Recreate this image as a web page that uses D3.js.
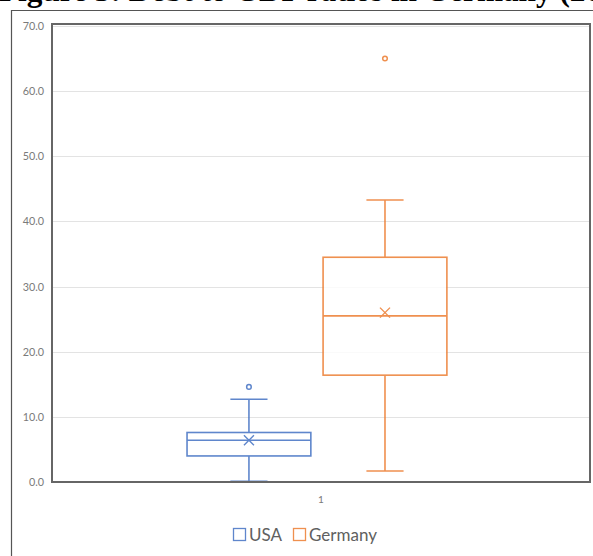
<!DOCTYPE html>
<html><head><meta charset="utf-8">
<script src="https://cdn.jsdelivr.net/npm/d3@7/dist/d3.min.js"></script>
<style>body{margin:0;background:#fff;overflow:hidden}svg{display:block}</style>
</head><body>
<svg id="c" width="593" height="556"></svg>
<script>
const series = ["USA", "Germany"];
const colors = ["#4472C4", "#ED7D31"];
const category = ["1"];
const whiskerLow = [0.1, 1.7];
const q1 = [4.0, 16.4];
const median = [6.4, 25.5];
const q3 = [7.6, 34.5];
const whiskerHigh = [12.7, 43.3];
const mean = [6.4, 26.0];
const outliers = [[14.6], [65.0]];
const yTicks = [0, 10, 20, 30, 40, 50, 60, 70];

const svg = d3.select("#c");
const W = 593, H = 556;
const m = {left: 52, right: 3, top: 24, bottom: 74};

// title (cut off at top of the picture)
const title = svg.append("text").attr("x", -1).attr("y", 1)
  .attr("font-family", "Liberation Serif").attr("font-weight", "bold").attr("font-size", 26).attr("fill", "#000");
title.append("tspan").text("Figure 3: Debt to GDP ratios in Germany ");
const w0 = title.node().getComputedTextLength();
const fs = 26 * 553 / w0;
title.attr("font-size", fs);
title.append("tspan").text("(2000-2019)");

// outer frame
svg.append("path").attr("d", `M11.5,${H}V10.5H${W}`).attr("fill", "none").attr("stroke", "#555").attr("stroke-width", 1.2);

const y = d3.scaleLinear().domain([0, 70]).range([H - m.bottom, m.top + 2]);
const x0 = d3.scaleBand().domain(category).range([m.left, W - m.right]);
const x1 = d3.scaleBand().domain(series)
  .range([x0("1") + x0.bandwidth() * 0.251, x0("1") + x0.bandwidth() * 0.734]).paddingInner(0.09);

// gridlines
svg.append("g").selectAll("line").data(yTicks.slice(1)).join("line")
  .attr("x1", m.left).attr("x2", W - m.right)
  .attr("y1", d => Math.round(y(d)) + 0.5).attr("y2", d => Math.round(y(d)) + 0.5)
  .attr("stroke", "#e3e3e3").attr("stroke-width", 1.2);

// y axis labels
const yAxis = d3.axisLeft(y).tickValues(yTicks).tickFormat(d3.format(".1f")).tickSize(0).tickPadding(8);
const ga = svg.append("g").attr("transform", `translate(${m.left},0)`).call(yAxis);
ga.select(".domain").remove();
ga.selectAll("text").attr("font-family", "Lato, 'Open Sans', sans-serif").attr("font-size", 10.8).attr("fill", "#7a7a7a");

// x axis label
const xAxis = d3.axisBottom(x0).tickSize(0).tickPadding(14);
const gx = svg.append("g").attr("transform", `translate(0,${y(0)})`).call(xAxis);
gx.select(".domain").remove();
gx.selectAll("text").attr("font-family", "Lato, sans-serif").attr("font-size", 10).attr("fill", "#7a7a7a");

// boxes
series.forEach((s, i) => {
  const g = svg.append("g").attr("stroke", colors[i]).attr("fill", "none").attr("stroke-width", 1.6).attr("opacity", 0.85);
  const bx = x1(s), bw = x1.bandwidth(), cx = bx + bw / 2, cap = bw * 0.3;
  g.append("line").attr("x1", cx).attr("x2", cx).attr("y1", y(whiskerHigh[i])).attr("y2", y(q3[i]));
  g.append("line").attr("x1", cx).attr("x2", cx).attr("y1", y(q1[i])).attr("y2", y(whiskerLow[i]));
  g.append("line").attr("x1", cx - cap/2).attr("x2", cx + cap/2).attr("y1", y(whiskerHigh[i])).attr("y2", y(whiskerHigh[i]));
  g.append("line").attr("x1", cx - cap/2).attr("x2", cx + cap/2).attr("y1", y(whiskerLow[i])).attr("y2", y(whiskerLow[i]));
  g.append("rect").attr("x", bx).attr("width", bw).attr("y", y(q3[i])).attr("height", y(q1[i]) - y(q3[i])).attr("fill", "#fff");
  g.append("line").attr("x1", bx).attr("x2", bx + bw).attr("y1", y(median[i])).attr("y2", y(median[i]));
  const my = y(mean[i]), k = 5;
  g.append("path").attr("d", `M${cx-k},${my-k}L${cx+k},${my+k}M${cx-k},${my+k}L${cx+k},${my-k}`).attr("stroke-width", 1.4);
  g.selectAll("circle").data(outliers[i]).join("circle").attr("cx", cx).attr("cy", d => y(d)).attr("r", 2.3).attr("stroke-width", 1.5);
});

// plot border
svg.append("rect").attr("x", m.left).attr("y", m.top).attr("width", W - m.right - m.left).attr("height", y(0) - m.top)
  .attr("fill", "none").attr("stroke", "#666").attr("stroke-width", 2);

// legend
const leg = svg.append("g").attr("transform", "translate(233,528)");
const items = [{s: "USA", x: 0}, {s: "Germany", x: 60}];
items.forEach((it, i) => {
  leg.append("rect").attr("x", it.x + 0.5).attr("y", 0.5).attr("width", 12).attr("height", 12)
    .attr("fill", "#fff").attr("stroke", colors[i]).attr("stroke-width", 1.3).attr("opacity", 0.85);
  leg.append("text").attr("x", it.x + 16).attr("y", 12.5).text(it.s)
    .attr("font-family", "Lato, 'Open Sans', sans-serif").attr("font-size", 17).attr("fill", "#606060");
});
</script>
</body></html>
